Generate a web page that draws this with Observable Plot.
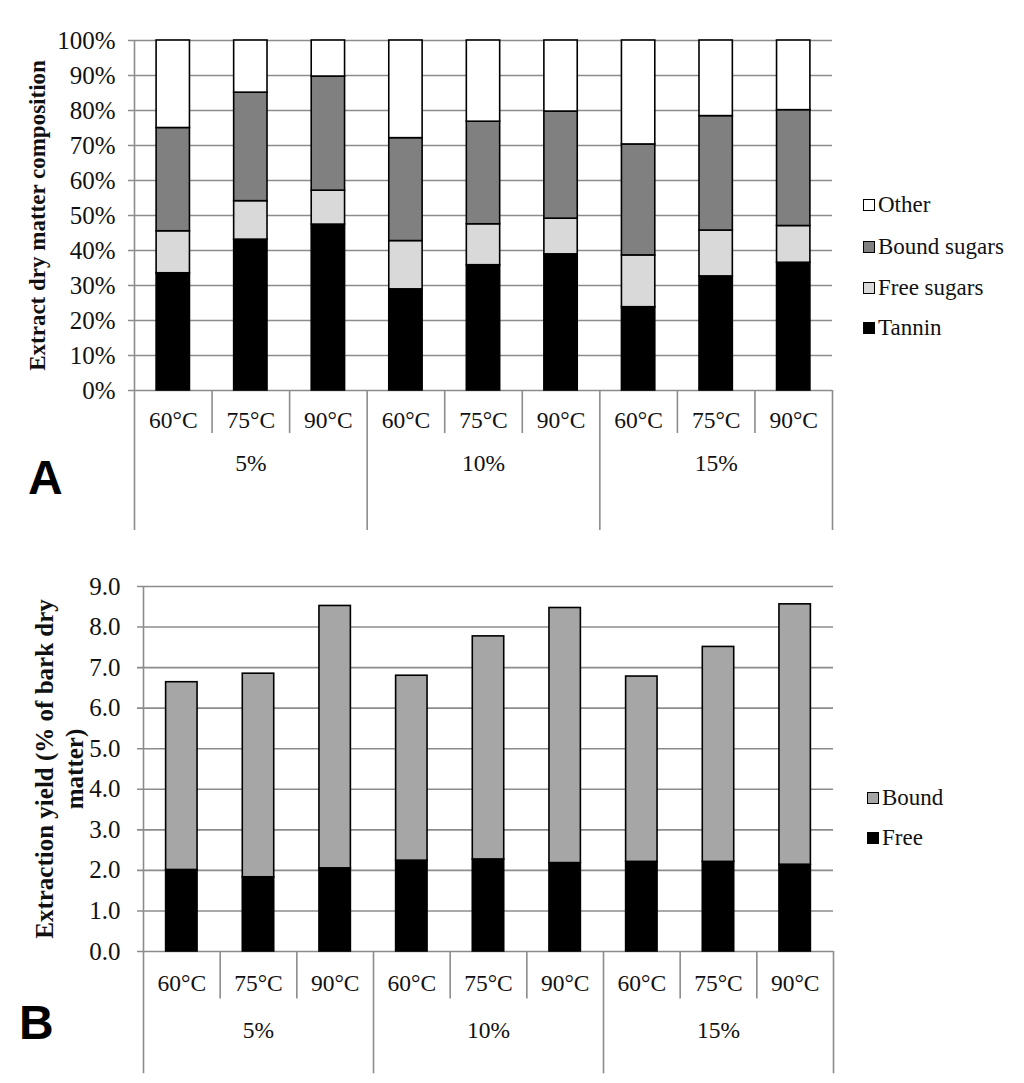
<!DOCTYPE html>
<html><head><meta charset="utf-8">
<script src="https://cdn.jsdelivr.net/npm/d3@7"></script>
<script src="https://cdn.jsdelivr.net/npm/@observablehq/plot@0.6"></script>
<style>
body{margin:0;background:#fff;}
#wrap{position:relative;width:1024px;height:1083px;overflow:hidden;}
#wrap svg{display:block;position:absolute;left:0;}
.lab{position:absolute;font:bold 48px "Liberation Sans",Arial,sans-serif;line-height:1;color:#000;}
.leg{position:absolute;font:23px "Liberation Serif","Times New Roman",serif;color:#111;line-height:24px;height:24px;display:flex;align-items:center;white-space:nowrap;}
.sw{width:10px;height:10px;border:1.5px solid #000;margin-right:3px;box-sizing:content-box;}
</style></head>
<body><div id="wrap"></div>
<script>
// ---------- data ----------
const concentrations = ["5%", "10%", "15%"];
const temperatures = ["60°C", "75°C", "90°C"];

// Panel A: extract dry matter composition (%), per bar in order 5%/60,75,90, 10%/..., 15%/...
const compSeries = ["Tannin", "Free sugars", "Bound sugars", "Other"];
const tannin      = [33.5, 43.1, 47.4, 28.9, 35.8, 38.9, 23.8, 32.6, 36.5];
const freeSugars  = [12.0, 11.0,  9.7, 13.8, 11.7, 10.2, 14.8, 13.1, 10.5];
const boundSugars = [29.5, 31.0, 32.6, 29.4, 29.3, 30.6, 31.7, 32.7, 33.1];
const other       = [25.0, 14.9, 10.3, 27.9, 23.2, 20.3, 29.7, 21.6, 19.9];
const compColors  = ["#000000", "#d9d9d9", "#808080", "#ffffff"];
const legendA     = ["Other", "Bound sugars", "Free sugars", "Tannin"];

// Panel B: extraction yield (% of bark dry matter)
const yieldSeries = ["Free", "Bound"];
const freeYield   = [2.01, 1.83, 2.05, 2.24, 2.27, 2.18, 2.21, 2.21, 2.14];
const boundYield  = [4.63, 5.02, 6.47, 4.56, 5.50, 6.29, 4.57, 5.30, 6.42];
const yieldColors = ["#000000", "#a6a6a6"];
const legendB     = ["Bound", "Free"];

const pctTicks   = [0, 10, 20, 30, 40, 50, 60, 70, 80, 90, 100];
const yieldTicks = [0, 1, 2, 3, 4, 5, 6, 7, 8, 9];

// ---------- helpers ----------
const cats = concentrations.flatMap((c, ci) => temperatures.map((t, ti) => ({conc: c, temp: t, i: ci * temperatures.length + ti})));
const groups = concentrations.map((c, ci) => ({conc: c, mid: ci * temperatures.length + temperatures.length / 2}));
const n = cats.length;
const boundaries = d3.range(n + 1);
const groupBounds = boundaries.filter(b => b % temperatures.length === 0);
const innerBounds = boundaries.filter(b => b % temperatures.length !== 0);

const serif = '"Liberation Serif","Times New Roman",serif';
const gridColor = "#8c8c8c";
const textColor = "#111";

function panel({rows, series, colors, yDomain, yTicks, yFormat, half, ml, mr, mt, mb, h,
                tickPad, innerDrop, groupDrop, tempDy, groupDy, title, titleDx, titleSize}) {
  const span = yDomain[1] - yDomain[0];
  return Plot.plot({
    width: 1024, height: h,
    marginLeft: ml, marginRight: mr, marginTop: mt, marginBottom: mb,
    style: {fontFamily: serif, fontSize: "23px", color: textColor, background: "transparent", overflow: "visible"},
    x: {type: "linear", domain: [0, n], axis: null},
    y: {domain: yDomain, axis: null},
    color: {domain: series, range: colors},
    marks: [
      Plot.ruleY(yTicks, {stroke: gridColor, strokeWidth: 1.6, insetLeft: -6}),
      Plot.ruleX([0], {y1: yDomain[0], y2: yDomain[1], stroke: gridColor, strokeWidth: 1.6}),
      Plot.ruleX(innerBounds, {y1: yDomain[0], y2: yDomain[0] - innerDrop * span, stroke: gridColor, strokeWidth: 1.6}),
      Plot.ruleX(groupBounds, {y1: yDomain[0], y2: yDomain[0] - groupDrop * span, stroke: gridColor, strokeWidth: 1.6}),
      Plot.axisY(yTicks, {tickSize: 0, tickPadding: tickPad, tickFormat: yFormat, label: null, fontSize: 25, fill: textColor}),
      Plot.rectY(rows, {
        x: "i",
        x1: d => d.i + 0.5 - half,
        x2: d => d.i + 0.5 + half,
        y: "value",
        fill: "series",
        stroke: "#000",
        strokeWidth: 1.6
      }),
      Plot.text(cats, {x: d => d.i + 0.5, y: yDomain[0], text: "temp", dy: tempDy, fill: textColor, fontSize: 23.5}),
      Plot.text(groups, {x: "mid", y: yDomain[0], text: "conc", dy: groupDy, fill: textColor, fontSize: 23.5}),
      Plot.text([title], {text: d => d, frameAnchor: "left", textAnchor: "middle", lineAnchor: "middle",
        dx: titleDx, rotate: -90, fontWeight: "bold", fontSize: titleSize, lineHeight: 1.2, fill: textColor})
    ]
  });
}

// ---------- panel A ----------
const compValues = [tannin, freeSugars, boundSugars, other];
const rowsA = compSeries.flatMap((s, si) => cats.map(c => ({...c, series: s, value: compValues[si][c.i]})));
const plotA = panel({
  rows: rowsA, series: compSeries, colors: compColors,
  yDomain: [0, 100], yTicks: pctTicks, yFormat: d => d + "%", half: 0.215,
  ml: 134, mr: 192, mt: 40, mb: 155, h: 545, tickPad: 19,
  innerDrop: 0.123, groupDrop: 0.40, tempDy: 30, groupDy: 73,
  title: "Extract dry matter composition", titleDx: -98, titleSize: 23
});

// ---------- panel B ----------
const yieldValues = [freeYield, boundYield];
const rowsB = yieldSeries.flatMap((s, si) => cats.map(c => ({...c, series: s, value: yieldValues[si][c.i]})));
const plotB = panel({
  rows: rowsB, series: yieldSeries, colors: yieldColors,
  yDomain: [0, 9], yTicks: yieldTicks, yFormat: d3.format(".1f"), half: 0.205,
  ml: 143, mr: 191, mt: 41, mb: 132, h: 538, tickPad: 23,
  innerDrop: 0.13, groupDrop: 0.335, tempDy: 32, groupDy: 79,
  title: "Extraction yield (% of bark dry\nmatter)", titleDx: -85, titleSize: 25
});

const wrap = document.getElementById("wrap");
plotA.style.top = "0px";
plotB.style.top = "545px";
wrap.appendChild(plotA);
wrap.appendChild(plotB);

// ---------- legends & panel letters ----------
function legend(items, series, colors, left, tops) {
  items.forEach((name, k) => {
    const el = document.createElement("div");
    el.className = "leg";
    el.style.left = left + "px";
    el.style.top = (tops[k] - 12) + "px";
    const sw = document.createElement("span");
    sw.className = "sw";
    sw.style.background = colors[series.indexOf(name)];
    el.appendChild(sw);
    el.appendChild(document.createTextNode(name));
    wrap.appendChild(el);
  });
}
legend(legendA, compSeries, compColors, 863, [205, 247, 288, 328]);
legend(legendB, yieldSeries, yieldColors, 867, [798, 838]);

function letter(t, left, top) {
  const el = document.createElement("div");
  el.className = "lab";
  el.textContent = t;
  el.style.left = left + "px";
  el.style.top = top + "px";
  wrap.appendChild(el);
}
letter("A", 28, 454);
letter("B", 19, 999);
</script>
</body></html>
